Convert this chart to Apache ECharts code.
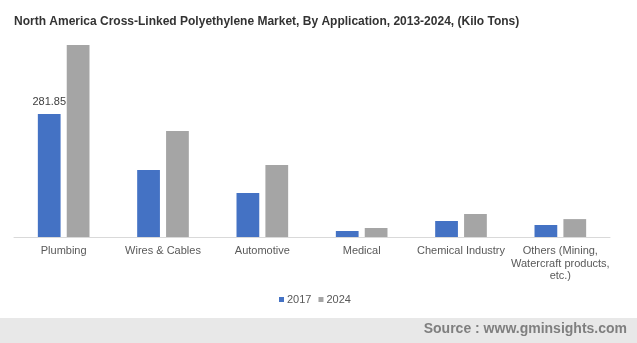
<!DOCTYPE html>
<html>
<head>
<meta charset="utf-8">
<script src="https://cdn.jsdelivr.net/npm/echarts@6/dist/echarts.min.js"></script>
<style>
  html, body { margin: 0; padding: 0; background: #fff; }
  #chart { width: 637px; height: 343px; }
</style>
</head>
<body>
<div id="chart"></div>
<script>
// Applications on the category axis
var categories = ['Plumbing', 'Wires & Cables', 'Automotive', 'Medical', 'Chemical Industry', 'Others (Mining,\nWatercraft products,\netc.)'];
// Volumes in kilo tons
var values2017 = [281.85, 153.5, 101, 13.7, 36.7, 27.5];
var values2024 = [440, 243, 165, 20.6, 52.7, 41];
var seriesNames = ['2017', '2024'];

var chart = echarts.init(document.getElementById('chart'), null, { renderer: 'canvas' });

var font = 'Liberation Sans, Arial, sans-serif';

chart.setOption({
  animation: false,
  backgroundColor: '#ffffff',
  title: {
    text: 'North America Cross-Linked Polyethylene Market, By Application, 2013-2024, (Kilo Tons)',
    left: 14,
    top: 16,
    padding: 0,
    textStyle: { fontFamily: font, fontSize: 12, fontWeight: 'bold', color: '#333333' }
  },
  legend: {
    data: seriesNames,
    top: 294,
    left: 279,
    padding: 0,
    icon: 'rect',
    itemWidth: 5,
    itemHeight: 5,
    itemGap: 7,
    textStyle: { fontFamily: font, fontSize: 11, color: '#595959', padding: [0, 0, 0, -2] }
  },
  grid: { left: 14, right: 27, top: 45, bottom: 106, containLabel: false },
  xAxis: {
    type: 'category',
    data: categories,
    axisLine: { lineStyle: { color: '#d9d9d9', width: 1 } },
    axisTick: { show: false },
    axisLabel: {
      interval: 0,
      margin: 8,
      fontFamily: font,
      fontSize: 11,
      lineHeight: 12.5,
      color: '#595959',
      align: 'center'
    }
  },
  yAxis: {
    type: 'value',
    min: 0,
    max: 440,
    show: false,
    splitLine: { show: false }
  },
  series: [
    {
      name: seriesNames[0],
      type: 'bar',
      data: values2017.map(function (v, i) {
        return i === 0
          ? { value: v, label: { show: true, position: 'top', distance: 7, formatter: '{c}', fontFamily: font, fontSize: 11, color: '#404040' } }
          : v;
      }),
      itemStyle: { color: '#4472C4' },
      barGap: '27%',
      barCategoryGap: '48%'
    },
    {
      name: seriesNames[1],
      type: 'bar',
      data: values2024,
      itemStyle: { color: '#A5A5A5' }
    }
  ],
  graphic: [
    {
      type: 'rect',
      left: 0,
      top: 318,
      shape: { width: 637, height: 25 },
      style: { fill: '#e8e8e8' },
      silent: true
    },
    {
      type: 'text',
      right: 10,
      top: 322,
      style: {
        text: 'Source : www.gminsights.com',
        fontFamily: font,
        fontSize: 14,
        fontWeight: 'bold',
        fill: '#7f7f7f'
      }
    }
  ]
});
</script>
</body>
</html>
